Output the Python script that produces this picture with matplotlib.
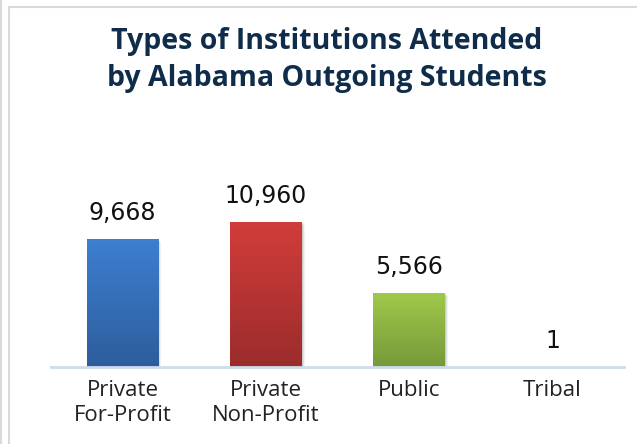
import numpy as np
import matplotlib
matplotlib.use("Agg")
from matplotlib import pyplot as plt
from matplotlib.colors import LinearSegmentedColormap
from matplotlib.patches import Rectangle
import matplotlib.transforms as mtransforms

# data
categories = ["Private\nFor-Profit", "Private\nNon-Profit", "Public", "Tribal"]
values = [9668, 10960, 5566, 1]
top_colors = ["#3d7fd0", "#d13d3a", "#9fc94b", "#9fc94b"]
bottom_colors = ["#2d5d9c", "#9b2c2c", "#77993a", "#77993a"]

title = "Types of Institutions Attended\nby Alabama Outgoing Students"

fig = plt.figure(figsize=(6.37, 4.44), dpi=100)
fig.patch.set_facecolor("white")

# outer frame lines (grey)
frame_kw = dict(color="#d9d9d9", lw=1.5, transform=fig.transFigure, clip_on=False)
fig.add_artist(plt.Line2D([1.5/637, 1.5/637], [0, 1], **frame_kw))
fig.add_artist(plt.Line2D([8.5/637, 8.5/637], [0, 1 - 7.5/444], **frame_kw))
fig.add_artist(plt.Line2D([8.5/637, 1], [1 - 7.5/444, 1 - 7.5/444], **frame_kw))

ymax = 18000
px_per_unit = 128 / 9668
ax_h = ymax * px_per_unit
ax = fig.add_axes([51/637, 77/444, 573/637, ax_h/444])
ax.set_xlim(-0.5, len(values) - 0.5)
ax.set_ylim(0, ymax)

x = np.arange(len(values))
width = 0.5
bars = ax.bar(x, values, width=width, color="none", zorder=3)

grad = np.linspace(0, 1, 256).reshape(-1, 1)
for b, c0, c1 in zip(bars, top_colors, bottom_colors):
    bx, by = b.get_x(), b.get_y()
    bw, bh = b.get_width(), b.get_height()
    if bh <= 0:
        continue
    # soft shadow
    for k, a in [(3, 0.05), (2, 0.07), (1, 0.09)]:
        off = mtransforms.ScaledTranslation(k/100, -k/100, fig.dpi_scale_trans)
        ax.add_patch(Rectangle((bx, by), bw, bh, color="black", alpha=a, lw=0,
                               transform=ax.transData + off, zorder=2))
    cmap = LinearSegmentedColormap.from_list("g", [c1, c0])
    im = ax.imshow(grad, extent=[bx, bx + bw, by, by + bh], origin="lower",
                   cmap=cmap, aspect="auto", zorder=3)
    im.set_clip_path(b)

for xi, v in zip(x, values):
    ax.annotate(f"{v:,}", (xi, v), xytext=(0, 10), textcoords="offset points",
                ha="center", va="bottom", fontsize=17, color="#111111",
                family="DejaVu Sans")

for s in ["top", "right", "left"]:
    ax.spines[s].set_visible(False)
ax.spines["bottom"].set_color("#cddcee")
ax.spines["bottom"].set_linewidth(2)
ax.spines["bottom"].set_zorder(4)
ax.set_yticks([])
ax.set_xticks(x)
ax.set_xticklabels(categories, fontsize=16, family="Open Sans", color="#222222",
                   linespacing=1.3)
ax.tick_params(axis="x", length=0, pad=9)
ax.set_facecolor("none")

fig.text(327/637, 1 - 60/444, title, ha="center", va="center",
         fontsize=20.5, fontweight="bold", family="Open Sans", color="#0f2d4a",
         linespacing=1.4)

fig.savefig("out.png", dpi=100)
